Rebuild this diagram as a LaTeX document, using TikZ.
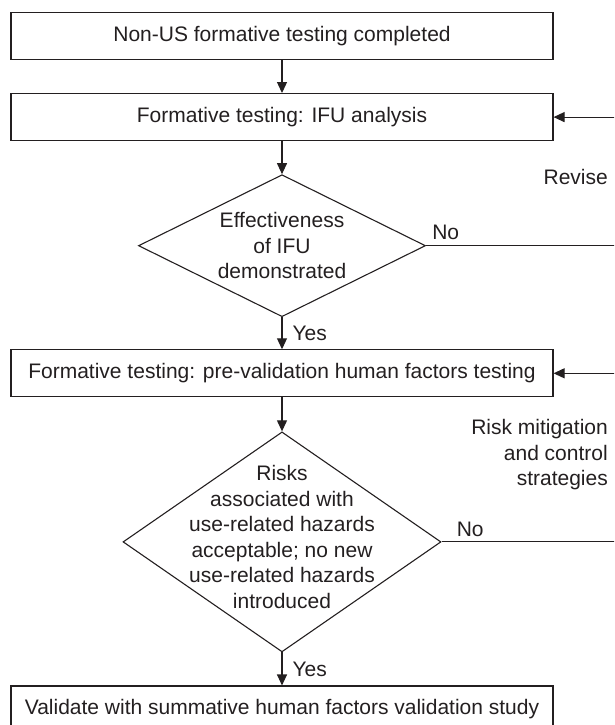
\documentclass[tikz,border=0pt]{standalone}
\usepackage{fontspec}
\setmainfont{Liberation Sans}
\usetikzlibrary{positioning,arrows.meta,shapes.geometric}
\definecolor{ink}{HTML}{231F20}

\begin{document}
\begin{tikzpicture}[x=1pt, y=1pt,
  node distance=33pt,
  every node/.style={font=\fontsize{21}{25.5}\selectfont, text=ink},
  stage/.style={draw=ink, line width=1.1pt, minimum width=542pt, minimum height=47pt, inner sep=0pt},
  check/.style={draw=ink, line width=1.1pt, diamond, inner sep=0pt},
  txt/.style={align=center, inner sep=0pt},
  lbl/.style={inner sep=0pt},
  arr/.style={-{Triangle[length=11pt, width=10pt]}, draw=ink, line width=1.1pt}]
\useasboundingbox (0,0) rectangle (614,-725);
\clip (0,0) rectangle (614,-725);
% main column
\node[stage] (start) at (282,-36) {Non-US formative testing completed};
\node[stage, below=of start] (ifu) {Formative testing: IFU analysis};
\node[check, minimum width=287pt, minimum height=142pt, below=of ifu] (eff) {};
\node[txt] (efftxt) at (eff) {Effectiveness\\of IFU\\demonstrated};
\node[stage, below=32pt of eff] (hf) {Formative testing: pre-validation human factors testing};
\node[check, minimum width=318pt, minimum height=220pt, below=34pt of hf] (risk) {};
\node[txt, yshift=5pt] (risktxt) at (risk) {Risks\\associated with\\use-related hazards\\acceptable; no new\\use-related hazards\\introduced};
\node[stage, below=of risk] (val) {Validate with summative human factors validation study};
% flow down
\draw[arr] (start) -- (ifu);
\draw[arr] (ifu) -- (eff);
\draw[arr] (eff) -- node[lbl, right=10pt] (yes1) {Yes} (hf);
\draw[arr] (hf) -- (risk);
\draw[arr] (risk) -- node[lbl, right=10pt] (yes2) {Yes} (val);
% feedback loops (vertical part runs off the page)
\coordinate (loop) at (640,0);
\draw[arr] (eff.east) -- (eff.east -| loop) |- (ifu.east);
\draw[arr] (risk.east) -- (risk.east -| loop) |- (hf.east);
\node[lbl, anchor=south west] (no1) at ([xshift=6pt, yshift=6pt]eff.east) {No};
\node[lbl, anchor=south west] (no2) at ([xshift=15pt, yshift=5pt]risk.east) {No};
\node[lbl, anchor=east] (revise) at (608,-177) {Revise};
\node[lbl, align=right, anchor=east] (mitig) at (608,-455) {Risk mitigation\\and control\\strategies};
\end{tikzpicture}
\end{document}
